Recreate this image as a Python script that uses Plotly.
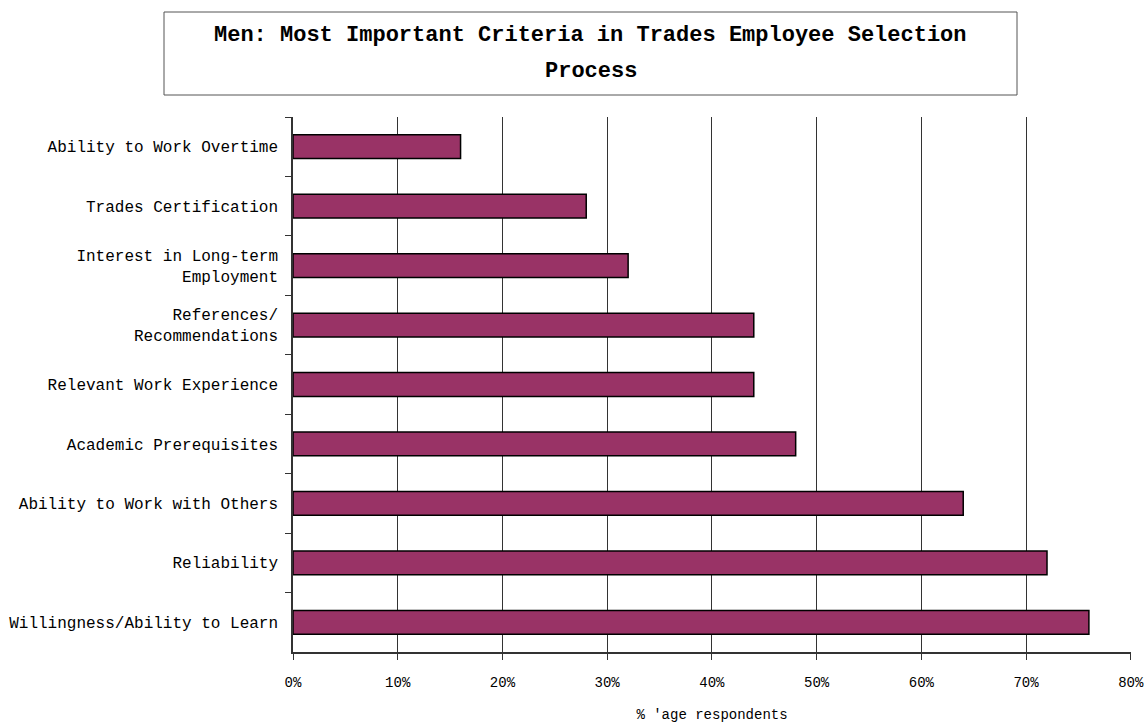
import plotly.graph_objects as go

# Survey results, listed from top of the chart to bottom
criteria = [
    "Ability to Work Overtime",
    "Trades Certification",
    "Interest in Long-term<br>Employment",
    "References/<br>Recommendations",
    "Relevant Work Experience",
    "Academic Prerequisites",
    "Ability to Work with Others",
    "Reliability",
    "Willingness/Ability to Learn",
]
share = [0.16, 0.28, 0.32, 0.44, 0.44, 0.48, 0.64, 0.72, 0.76]

x_ticks = [0, 0.1, 0.2, 0.3, 0.4, 0.5, 0.6, 0.7, 0.8]
x_tick_text = ["0%", "10%", "20%", "30%", "40%", "50%", "60%", "70%", "80%"]

title_line1 = "Men: Most Important Criteria in Trades Employee Selection"
title_line2 = "Process"
x_title = "% 'age respondents"

FONT = "Liberation Mono, Courier New, monospace"
W, H = 1144, 723
L, R, T, B = 293, 13, 117, 71
pw, ph = W - L - R, H - T - B


def px_x(x):
    return (x - L) / pw


def px_y(y):
    return (H - B - y) / ph


fig = go.Figure(
    go.Bar(
        x=share,
        y=criteria,
        orientation="h",
        width=0.4,
        marker=dict(color="#993366", line=dict(color="#000000", width=1.5)),
        hoverinfo="x+y",
    )
)

fig.update_layout(
    width=W,
    height=H,
    margin=dict(l=L, r=R, t=T, b=B, autoexpand=False),
    paper_bgcolor="white",
    plot_bgcolor="white",
    showlegend=False,
    font=dict(family=FONT, color="#000000"),
    xaxis=dict(
        range=[0, 0.8002],
        automargin=False,
        tickvals=x_ticks,
        ticktext=x_tick_text,
        tickfont=dict(size=14, family=FONT),
        showgrid=True,
        gridcolor="#333333",
        gridwidth=1,
        zeroline=False,
        showline=True,
        linecolor="#333333",
        linewidth=1.5,
        ticks="outside",
        ticklen=6,
        tickcolor="#333333",
        ticklabelstandoff=10,
        title=dict(text=x_title, font=dict(size=14, family=FONT), standoff=20),
    ),
    yaxis=dict(
        autorange="reversed",
        automargin=False,
        type="category",
        tickfont=dict(size=16, family=FONT),
        showgrid=False,
        showline=True,
        linecolor="#333333",
        linewidth=1.5,
        ticks="outside",
        tickson="boundaries",
        ticklen=6,
        tickcolor="#333333",
        ticklabelstandoff=10,
    ),
    shapes=[
        dict(
            type="rect",
            xref="paper",
            yref="paper",
            x0=px_x(164),
            x1=px_x(1017),
            y0=px_y(95),
            y1=px_y(12),
            line=dict(color="#555555", width=1),
            fillcolor="white",
            layer="above",
        )
    ],
    annotations=[
        dict(
            text="<b>" + title_line1 + "</b>",
            xref="paper",
            yref="paper",
            x=px_x(590.5),
            y=px_y(36),
            showarrow=False,
            font=dict(size=22, family=FONT),
            xanchor="center",
            yanchor="middle",
        ),
        dict(
            text="<b>" + title_line2 + "</b>",
            xref="paper",
            yref="paper",
            x=px_x(590.5),
            y=px_y(71),
            showarrow=False,
            font=dict(size=22, family=FONT),
            xanchor="center",
            yanchor="middle",
        ),
    ],
)

fig.write_html("out.html")
